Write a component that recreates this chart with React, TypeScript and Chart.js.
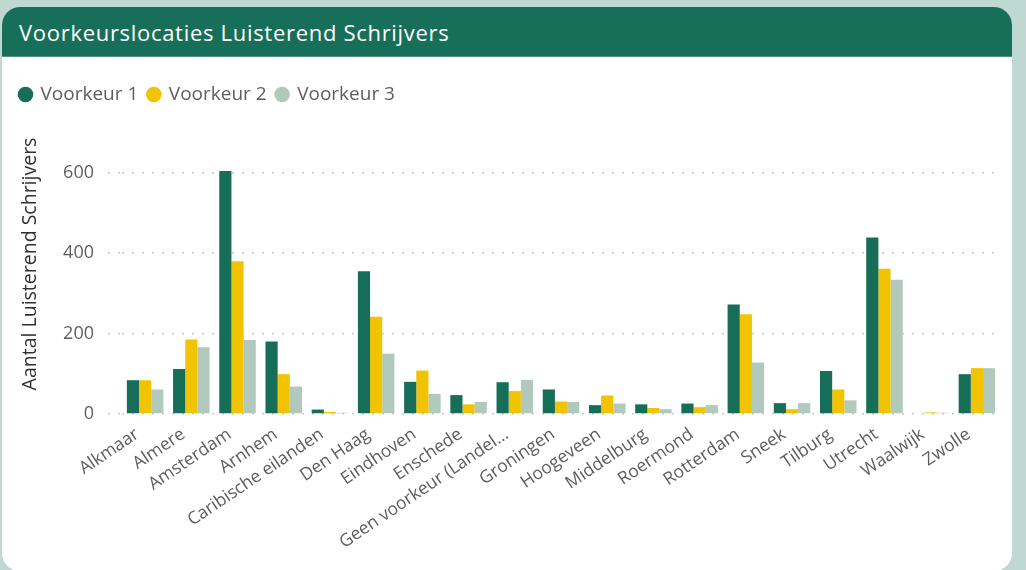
import React, { useEffect, useRef } from "react";
import { Chart, registerables } from "chart.js";

Chart.register(...registerables);

const chartTitle = "Voorkeurslocaties Luisterend Schrijvers";
const yAxisTitle = "Aantal Luisterend Schrijvers";
const categories = [
  "Alkmaar",
  "Almere",
  "Amsterdam",
  "Arnhem",
  "Caribische eilanden",
  "Den Haag",
  "Eindhoven",
  "Enschede",
  "Geen voorkeur (Landel...",
  "Groningen",
  "Hoogeveen",
  "Middelburg",
  "Roermond",
  "Rotterdam",
  "Sneek",
  "Tilburg",
  "Utrecht",
  "Waalwijk",
  "Zwolle",
];
const seriesNames = ["Voorkeur 1", "Voorkeur 2", "Voorkeur 3"];
const voorkeur1 = [84, 112, 604, 180, 11, 355, 80, 47, 79, 61, 22, 24, 26, 272, 27, 107, 439, 0, 99];
const voorkeur2 = [84, 185, 380, 99, 5, 242, 108, 24, 57, 31, 46, 15, 17, 248, 12, 61, 361, 4, 114];
const voorkeur3 = [61, 166, 184, 68, 3, 150, 50, 30, 85, 30, 26, 12, 22, 128, 27, 34, 334, 3, 114];
const yTicks = [0, 200, 400, 600];
const seriesColors = ["#176e58", "#f2c300", "#b1c9bd"];

const FONT = "'Open Sans', 'Noto Sans', sans-serif";

export default function App() {
  const canvasRef = useRef<HTMLCanvasElement | null>(null);

  useEffect(() => {
    document.body.style.margin = "0";
    const canvas = canvasRef.current;
    if (!canvas) return;
    Chart.defaults.font.family = FONT;
    const chart = new Chart(canvas, {
      type: "bar",
      data: {
        labels: categories,
        datasets: [voorkeur1, voorkeur2, voorkeur3].map((d, i) => ({
          label: seriesNames[i],
          data: d,
          backgroundColor: seriesColors[i],
          borderWidth: 0,
          barPercentage: 1,
          categoryPercentage: 0.79,
        })),
      },
      options: {
        animation: false,
        responsive: false,
        devicePixelRatio: 1,
        layout: { padding: { left: 10, right: 26, top: 75, bottom: 0 } },
        plugins: {
          tooltip: { enabled: false },
          legend: {
            display: true,
            position: "top",
            align: "start",
            labels: {
              usePointStyle: true,
              pointStyle: "circle",
              boxWidth: 11,
              boxHeight: 11,
              padding: 10,
              color: "#605e5c",
              font: { family: FONT, size: 19 },
            },
          },
        },
        scales: {
          x: {
            offset: true,
            grid: { display: false },
            border: { display: false },
            ticks: {
              color: "#605e5c",
              font: { family: FONT, size: 17.5 },
              minRotation: 34,
              maxRotation: 34,
              autoSkip: false,
              padding: 2,
              labelOffset: -8,
            },
            afterFit: (s: any) => {
              s.height = 156;
            },
          },
          y: {
            min: 0,
            max: 746,
            afterBuildTicks: (s: any) => {
              s.ticks = yTicks.map((v) => ({ value: v }));
            },
            ticks: {
              color: "#605e5c",
              font: { family: FONT, size: 18 },
              padding: 14,
            },
            grid: {
              color: "#c8c8c8",
              lineWidth: 1.5,
              tickLength: 14,
              tickBorderDash: [2, 8],
              tickColor: "#c8c8c8",
            },
            border: { display: false, dash: [2, 8] },
            title: {
              display: true,
              text: yAxisTitle,
              color: "#323130",
              font: { family: FONT, size: 19.5 },
              padding: { top: 9, bottom: 0 },
            },
            afterFit: (s: any) => {
              s.width = 112;
            },
          },
        },
      },
    });
    return () => chart.destroy();
  }, []);

  return (
    <div
      style={{
        position: "fixed",
        left: 0,
        top: 0,
        width: 1026,
        height: 570,
        background: "#c0d8d2",
        overflow: "hidden",
      }}
    >
      <div
        style={{
          position: "absolute",
          left: 2,
          top: 7,
          width: 1010,
          height: 564,
          background: "#ffffff",
          borderRadius: 18,
          overflow: "hidden",
        }}
      >
        <div
          style={{
            height: 50,
            background: "#186f59",
            color: "#ffffff",
            fontFamily: FONT,
            fontSize: 22,
            letterSpacing: 0.7,
            lineHeight: "50px",
            paddingLeft: 17,
            boxSizing: "border-box",
            borderBottom: "1px solid #4f9380",
            whiteSpace: "nowrap",
          }}
        >
          {chartTitle}
        </div>
      </div>
      <canvas
        ref={canvasRef}
        width={1026}
        height={570}
        style={{ position: "absolute", left: 0, top: 0, width: 1026, height: 570 }}
      />
    </div>
  );
}
